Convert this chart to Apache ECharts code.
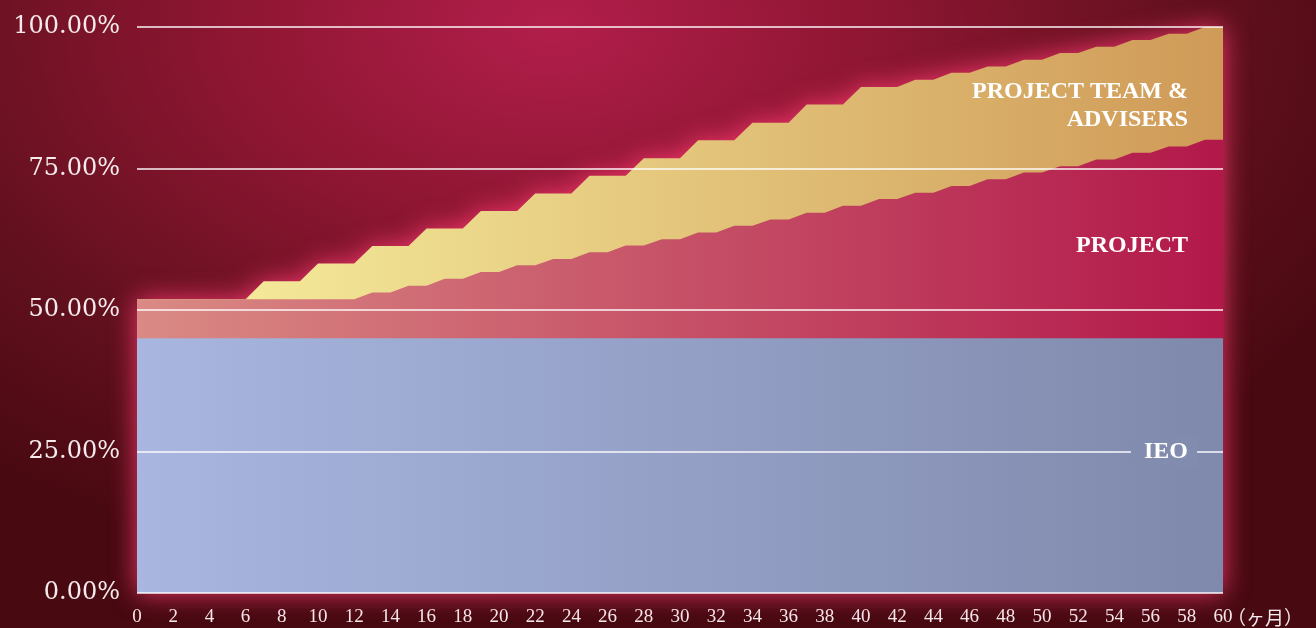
<!DOCTYPE html>
<html>
<head>
<meta charset="utf-8">
<script src="https://cdn.jsdelivr.net/npm/echarts@6/dist/echarts.min.js"></script>
<style>
html,body{margin:0;padding:0;width:1316px;height:628px;overflow:hidden;
background: radial-gradient(ellipse 70% 90% at 42% 4%, #b21e4b 0%, #8e1632 35%, #62101e 70%, #480911 100%);}
#chart{width:1316px;height:628px;}
</style>
</head>
<body>
<div id="chart"></div>
<script>
// Months (x categories)
const months = ['0','1','2','3','4','5','6','7','8','9','10','11','12','13','14','15','16','17','18','19','20',
  '21','22','23','24','25','26','27','28','29','30','31','32','33','34','35','36','37','38','39','40',
  '41','42','43','44','45','46','47','48','49','50','51','52','53','54','55','56','57','58','59','60'];

// Cumulative top of each band (%)
const ieoTop = [45,45,45,45,45,45,45,45,45,45,45,45,45,45,45,45,45,45,45,45,45,
  45,45,45,45,45,45,45,45,45,45,45,45,45,45,45,45,45,45,45,45,
  45,45,45,45,45,45,45,45,45,45,45,45,45,45,45,45,45,45,45,45];

const projectTop = [51.9,51.9,51.9,51.9,51.9,51.9,51.9,51.9,51.9,51.9,51.9,51.9,51.9,
  53.1,53.1,54.3,54.3,55.5,55.5,56.7,56.7,57.9,57.9,59.0,59.0,60.2,60.2,61.4,61.4,62.5,62.5,
  63.7,63.7,64.9,64.9,66.0,66.0,67.2,67.2,68.4,68.4,69.6,69.6,70.7,70.7,71.9,71.9,73.1,73.1,
  74.3,74.3,75.4,75.4,76.6,76.6,77.8,77.8,78.9,78.9,80.1,80.1];

const teamTop = [51.9,51.9,51.9,51.9,51.9,51.9,51.9,
  55.1,55.1,55.1,58.2,58.2,58.2,61.3,61.3,61.3,64.4,64.4,64.4,67.5,67.5,67.5,
  70.6,70.6,70.6,73.7,73.7,73.7,76.8,76.8,76.8,80.0,80.0,80.0,83.1,83.1,83.1,
  86.3,86.3,86.3,89.4,89.4,89.4,90.7,90.7,91.9,91.9,93.0,93.0,94.2,94.2,
  95.4,95.4,96.5,96.5,97.7,97.7,98.8,98.8,100,100];

const yTicks = [0, 25, 50, 75, 100];
const seriesNames = ['PROJECT TEAM &\nADVISERS', 'PROJECT', 'IEO'];

const serif = '"Liberation Serif", "Times New Roman", serif';
const wideSerif = '"DejaVu Serif", serif';
const txtColor = '#f5eaec';

function hgrad(c1, c2) {
  return {type:'linear', x:0, y:0, x2:1, y2:0, colorStops:[{offset:0,color:c1},{offset:1,color:c2}]};
}

const chart = echarts.init(document.getElementById('chart'), null, {renderer:'canvas'});
chart.setOption({
  backgroundColor: 'transparent',
  animation: false,
  grid: {left:137, right:93, top:27, bottom:35},
  xAxis: {
    type:'category', data: months, boundaryGap:false,
    axisLine:{show:false}, axisTick:{show:false}, splitLine:{show:false},
    axisLabel:{interval:1, color:txtColor, fontFamily:serif, fontSize:19, margin:15},
    name:'（ヶ月）', nameLocation:'end', nameGap:4, nameMoveOverlap:false,
    nameTextStyle:{color:txtColor, fontSize:19, fontFamily:'"Noto Sans CJK JP", serif', verticalAlign:'top', padding:[15,0,0,0]}
  },
  yAxis: {
    type:'value', min:yTicks[0], max:yTicks[yTicks.length-1], interval:25, z:3,
    axisLine:{show:false}, axisTick:{show:false},
    axisLabel:{formatter: v => v.toFixed(2) + '%', color:txtColor, fontFamily:wideSerif, fontSize:24, margin:17},
    splitLine:{lineStyle:{color:'#ffffff', width:1.5, opacity:0.95}}
  },
  series: [
    {name:seriesNames[0], type:'line', data:teamTop, symbol:'none', silent:true, z:1, clip:false,
     lineStyle:{width:80, opacity:0},
     areaStyle:{opacity:1, color:hgrad('#f8f2a0','#cf9a57'), shadowBlur:26, shadowColor:'rgba(255,60,115,0.9)'}},
    {name:seriesNames[1], type:'line', data:projectTop, symbol:'none', silent:true, z:2,
     lineStyle:{width:0},
     areaStyle:{opacity:1, color:hgrad('#da8a84','#b2184a')}},
    {name:seriesNames[2], type:'line', data:ieoTop, symbol:'none', silent:true, z:2,
     lineStyle:{width:0},
     areaStyle:{opacity:1, color:hgrad('#a8b6e0','#7f89ab')}}
  ],
  graphic: [
    {type:'text', right:128, top:78, z:100,
     style:{text:seriesNames[0], fill:'#ffffff', font:'bold 24px ' + serif, textAlign:'right', lineHeight:28}},
    {type:'text', right:128, top:234, z:100,
     style:{text:seriesNames[1], fill:'#ffffff', font:'bold 24px ' + serif, textAlign:'right'}},
    {type:'text', right:119, top:438, z:100,
     style:{text:seriesNames[2], fill:'#ffffff', font:'bold 24px ' + serif, textAlign:'right',
            backgroundColor:'rgb(130,140,174)', padding:[2,9,2,13]}}
  ]
});
</script>
</body>
</html>
